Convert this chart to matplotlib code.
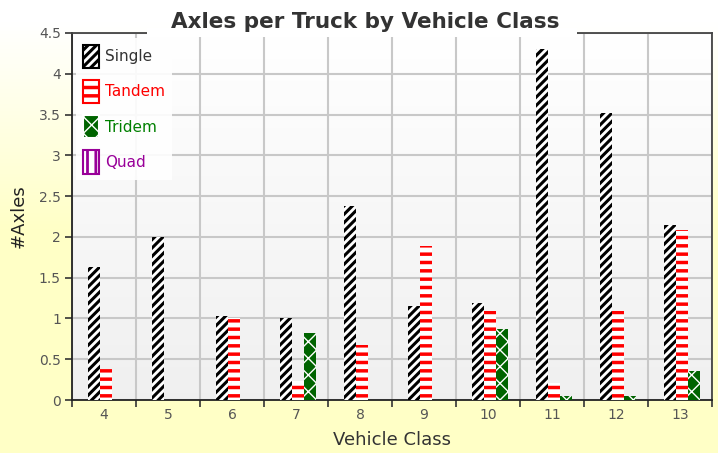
import numpy as np
import matplotlib
matplotlib.use("Agg")
import matplotlib.pyplot as plt
from matplotlib.patches import Patch, Rectangle
from matplotlib.ticker import FuncFormatter, FixedLocator

# data
classes = ["4", "5", "6", "7", "8", "9", "10", "11", "12", "13"]
single = [1.63, 2.0, 1.03, 1.0, 2.38, 1.15, 1.19, 4.30, 3.52, 2.15]
tandem = [0.38, 0.0, 1.0, 0.23, 0.68, 1.89, 1.09, 0.21, 1.09, 2.08]
tridem = [0.0, 0.0, 0.0, 0.82, 0.0, 0.0, 0.87, 0.05, 0.05, 0.36]
quad = [0.0, 0.0, 0.0, 0.0, 0.0, 0.0, 0.0, 0.0, 0.0, 0.0]
yticks = [0, 0.5, 1, 1.5, 2, 2.5, 3, 3.5, 4, 4.5]

W, H = 718, 453
fig = plt.figure(figsize=(W / 100, H / 100), dpi=100)

# yellow background gradient
bg = fig.add_axes([0, 0, 1, 1], zorder=-10)
grad = np.linspace(0, 1, 200).reshape(-1, 1)
top = np.array([1.0, 1.0, 1.0])
bot = np.array([1.0, 1.0, 0.78])
img = top + (bot - top) * np.clip((grad - 0.05) * 2.2, 0, 1)[:, :, None]
bg.imshow(img, aspect='auto', extent=[0, 1, 0, 1], origin='upper')
bg.axis('off')

ax = fig.add_axes([72/W, 53/H, 640/W, 367/H])
ax.set_facecolor('none')
# plot area gradient
pg = np.linspace(1.0, 0.94, 100).reshape(-1, 1)
ax.imshow(np.repeat(pg[:, :, None], 3, axis=2), aspect='auto',
          extent=[-0.5, 9.5, 0, 4.5], origin='upper', zorder=0)

x = np.arange(len(classes))
w = 0.1875
offsets = [-0.156, 0.031, 0.219, 0.406]
series = [
    ("Single", single, 'white', 'black', '////', '#333333', 2.2),
    ("Tandem", tandem, 'white', 'red', '--', 'red', 2.5),
    ("Tridem", tridem, '#006400', 'white', 'xx', 'green', 1.0),
    ("Quad", quad, 'white', '#990099', '||', '#990099', 2.0),
]
handles = []
for i, (name, vals, fc, ec, h, lc, hlw) in enumerate(series):
    with plt.rc_context({'hatch.linewidth': hlw}):
        ax.bar(x + offsets[i], vals, width=w, facecolor=fc, edgecolor=ec,
               hatch=h, linewidth=0, zorder=3)
    handles.append(Patch(facecolor=fc, edgecolor=ec if name != "Tridem" else '#006400',
                         linewidth=1.5))

ax.set_xlim(-0.5, 9.5)
ax.set_ylim(0, 4.5)

ax.xaxis.set_major_locator(FixedLocator(np.arange(-0.5, 10, 1)))
ax.xaxis.set_minor_locator(FixedLocator(x))
ax.set_xticklabels([])
ax.set_xticklabels(classes, minor=True)
ax.tick_params(axis='x', which='major', direction='out', length=5, width=1.2, color='#333333')
ax.tick_params(axis='x', which='minor', length=0, pad=6, labelsize=10, labelcolor='#555555')

ax.set_yticks(yticks)
ax.yaxis.set_major_formatter(FuncFormatter(lambda v, p: ('%g' % v)))
ax.tick_params(axis='y', direction='out', length=5, width=1.2, color='#333333',
               labelsize=10, labelcolor='#555555', pad=3)

ax.grid(True, which='major', color='#c8c8c8', linewidth=1.5, zorder=1)
ax.set_axisbelow(True)

for s in ['left', 'bottom']:
    ax.spines[s].set_color('#222222')
    ax.spines[s].set_linewidth(1.3)
for s in ['top', 'right']:
    ax.spines[s].set_color('#444444')
    ax.spines[s].set_linewidth(1.3)

ax.set_xlabel("Vehicle Class", fontsize=13, color='#333333', labelpad=6)
ax.set_ylabel("#Axles", fontsize=13, color='#222222', labelpad=8)

# title sits on a white strip that cuts the top frame line
fig.add_artist(Rectangle((147/W, 1 - 37/H), 430/W, 9/H, transform=fig.transFigure,
                         facecolor='white', edgecolor='none', zorder=5))
fig.text(365/W, 1 - 28/H, "Axles per Truck by Vehicle Class", ha='center', va='baseline',
         fontsize=15.5, fontweight='bold', color='#333333', zorder=6)

leg = ax.legend(handles, [s[0] for s in series], loc='upper left',
                bbox_to_anchor=(0.002, 0.995), frameon=True, fancybox=False,
                handlelength=1.05, handleheight=2.0, labelspacing=0.75,
                handletextpad=0.4, borderpad=0.45, borderaxespad=0.2, fontsize=11,
                labelcolor=[s[5] for s in series])
leg.get_frame().set_facecolor('white')
leg.get_frame().set_edgecolor('none')
leg.get_frame().set_alpha(0.9)
leg.set_zorder(5)

# hatch patterns on the legend swatches, with the same stroke widths as the bars
for hnd, s in zip(leg.legend_handles, series):
    hnd.set_hatch(s[4])
    if s[0] == "Tridem":
        hnd.set_edgecolor('white')
    if hasattr(hnd, 'set_hatch_linewidth'):
        hnd.set_hatch_linewidth(s[6])
    else:
        hnd._hatch_linewidth = s[6]

fig.savefig("out.png", dpi=100)
